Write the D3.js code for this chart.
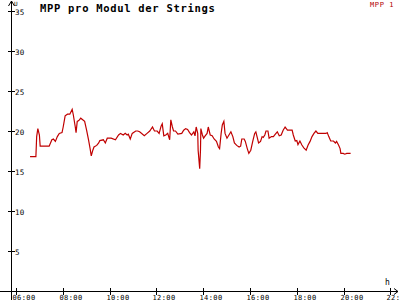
<!DOCTYPE html>
<html>
<head>
<meta charset="utf-8">
<script src="https://cdn.jsdelivr.net/npm/d3@7"></script>
<style>
  body { margin: 0; background: #fff; }
  text { font-family: "DejaVu Sans Mono", monospace; }
</style>
</head>
<body>
<script>
// MPP 1 readings: time of day and value
var times = ["06:36","06:51","06:53","06:56","07:00","07:02","07:25","07:32","07:36","07:41",
  "07:46","07:51","07:58","08:01","08:06","08:12","08:18","08:24","08:27","08:32",
  "08:34","08:37","08:41","08:46","08:51","08:56","09:01","09:06","09:10","09:13",
  "09:17","09:20","09:27","09:32","09:35","09:44","09:49","09:54","10:04","10:15",
  "10:23","10:28","10:35","10:40","10:45","10:48","10:53","10:58","11:07","11:12",
  "11:17","11:29","11:36","11:43","11:50","11:55","12:02","12:07","12:12","12:15",
  "12:19","12:24","12:29","12:34","12:37","12:41","12:44","12:49","12:55","13:05",
  "13:10","13:15","13:20","13:25","13:30","13:36","13:39","13:42","13:46","13:47",
  "13:51","13:53","13:54","13:58","14:01","14:05","14:10","14:13","14:18","14:23",
  "14:28","14:34","14:39","14:42","14:46","14:49","14:53","14:56","15:01","15:06",
  "15:11","15:16","15:20","15:26","15:32","15:36","15:39","15:45","15:48","15:53",
  "15:57","16:02","16:07","16:12","16:15","16:19","16:22","16:27","16:31","16:34",
  "16:38","16:41","16:46","16:49","16:55","17:00","17:05","17:10","17:15","17:20",
  "17:25","17:30","17:36","17:48","17:51","17:56","18:00","18:03","18:08","18:13",
  "18:18","18:24","18:29","18:34","18:39","18:44","18:49","18:54","19:15","19:18",
  "19:22","19:27","19:34","19:39","19:42","19:47","19:51","19:53","19:59","20:03",
  "20:08","20:18"];
var values = [16.8,16.8,19.3,20.3,19.5,18.1,18.1,18.9,19.0,18.7,
  19.3,19.7,19.8,20.5,21.9,22.1,22.1,22.7,22.0,20.5,
  19.8,21.2,21.3,21.6,21.4,21.2,20.1,18.9,17.8,16.9,
  17.6,18.0,18.2,18.5,18.8,18.9,18.5,19.1,19.1,18.9,
  19.5,19.7,19.5,19.7,19.5,19.6,19.0,19.7,20.0,20.0,
  19.9,19.4,19.7,20.0,20.5,20.0,20.0,19.7,20.6,20.9,
  19.4,19.5,19.7,18.9,21.4,20.5,20.0,20.0,19.6,19.7,
  20.1,20.3,20.2,19.8,19.5,19.9,19.4,20.5,19.7,17.6,
  15.3,17.6,20.3,19.5,19.1,19.4,19.7,20.5,19.5,19.4,
  19.0,18.7,18.0,17.8,19.7,20.75,21.2,19.7,19.1,19.5,
  19.9,19.3,18.5,18.2,18.0,18.1,19.0,19.0,18.7,17.8,
  17.2,17.6,18.7,19.7,19.9,19.1,18.5,18.7,19.3,19.2,
  19.5,20.0,20.0,19.1,19.3,19.3,19.6,19.9,19.4,19.5,
  20.1,20.5,20.1,20.1,19.5,18.75,18.8,18.3,18.75,18.25,
  17.9,17.6,18.25,18.7,19.3,19.7,20.0,19.7,19.7,19.8,
  19.3,18.75,18.75,18.5,18.7,18.25,17.8,17.2,17.2,17.1,
  17.2,17.2];

var yTicks = [5, 10, 15, 20, 25, 30, 35];
var xTicks = [6, 8, 10, 12, 14, 16, 18, 20, 22];
var xTickLabels = ["06:00","08:00","10:00","12:00","14:00","16:00","18:00","20:00","22:00"];
var title = "MPP pro Modul der Strings";
var seriesName = "MPP 1";

const width = 400, height = 300;
const lineColor = "#c00000";

var data = times.map(function(t, i) {
  var p = t.split(":");
  return { t: +p[0] + p[1] / 60, v: values[i] };
});

var svg = d3.select("body").append("svg")
  .attr("width", width)
  .attr("height", height);

var x = d3.scaleLinear().domain([6, 22]).range([16, 390.4]);
var y = d3.scaleLinear().domain([0, 35]).range([291, 11]);

var axisX = 11, axisY = 291;

/* axes */
var ax = svg.append("g")
  .attr("stroke", "#000")
  .attr("stroke-width", 1)
  .attr("shape-rendering", "crispEdges")
  .attr("fill", "none");

ax.append("line").attr("x1", axisX + 0.5).attr("x2", axisX + 0.5).attr("y1", 300).attr("y2", 1);
ax.append("path").attr("d", `M${axisX - 2.5},6 L${axisX + 0.5},1 L${axisX + 3.5},6`)
  .attr("shape-rendering", "auto");
ax.append("line").attr("x1", 0).attr("x2", 398).attr("y1", axisY + 0.5).attr("y2", axisY + 0.5);
ax.append("path").attr("d", `M394,${axisY - 2.5} L398,${axisY + 0.5} L394,${axisY + 3.5}`)
  .attr("shape-rendering", "auto");

yTicks.forEach(function(v) {
  var yy = Math.round(y(v)) + 0.5;
  ax.append("line").attr("x1", axisX - 3).attr("x2", axisX + 4).attr("y1", yy).attr("y2", yy);
  svg.append("text")
    .attr("x", axisX + 4)
    .attr("y", yy + 3)
    .attr("font-size", "7.5px")
    .attr("letter-spacing", "0.3px")
    .attr("fill", "#000")
    .text(v);
});

xTicks.forEach(function(t, i) {
  var xx = Math.round(x(t)) + 0.5;
  ax.append("line").attr("x1", xx).attr("x2", xx).attr("y1", axisY - 3).attr("y2", axisY + 4);
  svg.append("text")
    .attr("x", xx - 4)
    .attr("y", 300)
    .attr("font-size", "7px")
    .attr("letter-spacing", "0.4px")
    .attr("fill", "#000")
    .text(xTickLabels[i]);
});

svg.append("text").attr("x", 14).attr("y", 6)
  .attr("font-size", "6px").attr("fill", "#000").text("U");
svg.append("text").attr("x", 385).attr("y", 285)
  .attr("font-size", "8px").attr("fill", "#000").text("h");

/* title + legend */
svg.append("text")
  .attr("x", 40)
  .attr("y", 12)
  .attr("font-size", "10.5px")
  .attr("font-weight", "bold")
  .attr("letter-spacing", "0.7px")
  .attr("fill", "#000")
  .text(title);

svg.append("text")
  .attr("x", 370)
  .attr("y", 7)
  .attr("font-size", "7px")
  .attr("letter-spacing", "0.6px")
  .attr("fill", "#b00000")
  .text(seriesName);

/* line */
var line = d3.line()
  .x(d => x(d.t))
  .y(d => y(d.v));

svg.append("path")
  .datum(data)
  .attr("d", line)
  .attr("fill", "none")
  .attr("stroke", lineColor)
  .attr("stroke-width", 1.2);
</script>
</body>
</html>
